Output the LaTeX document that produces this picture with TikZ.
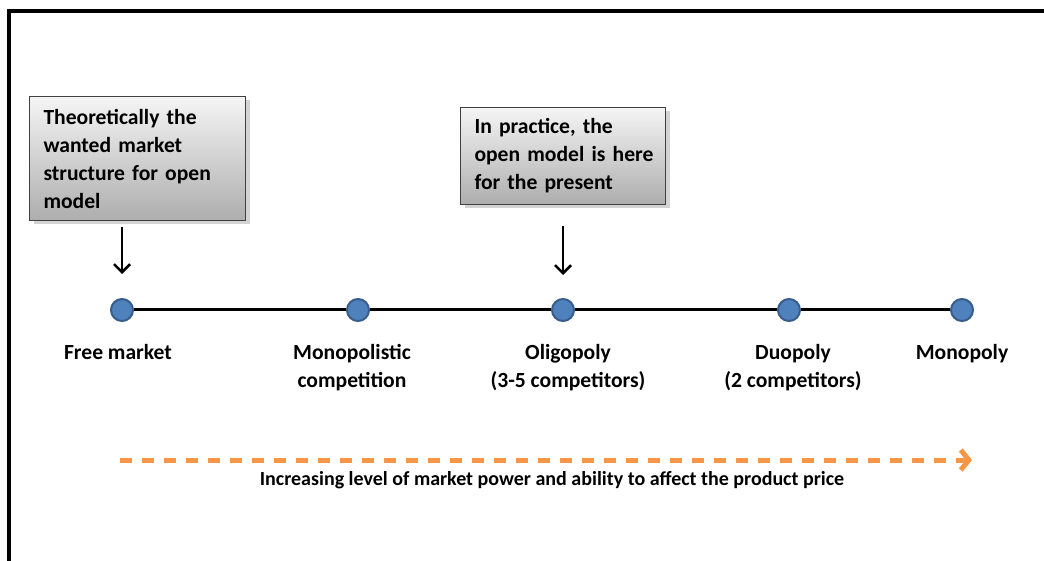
\documentclass[tikz,border=0pt]{standalone}
\usepackage{fontspec}
\setmainfont{Carlito}
\usetikzlibrary{positioning,arrows.meta,shadows}
\definecolor{dotblue}{HTML}{4F81BD}
\definecolor{dotrim}{HTML}{385D8A}
\definecolor{trendorange}{HTML}{F79646}
\begin{document}
\begin{tikzpicture}[x=0.5pt,y=-0.5pt,
	font=\bfseries\fontsize{10.8}{14}\selectfont,
	main node/.style = {circle,draw=dotrim,fill=dotblue,line width=1pt,inner sep=0pt,minimum size=11pt},
	note box/.style = {draw=black!75,line width=0.5pt,top color=black!4,bottom color=black!32,
		drop shadow={shadow xshift=2pt,shadow yshift=-2pt,opacity=0.35},
		align=left,inner xsep=7pt,inner ysep=0pt,anchor=north west},
	stage/.style = {align=center,inner sep=0pt},
	pointer/.style = {-{Straight Barb[length=4pt,width=8pt]},line width=1.3pt}]
	
	\useasboundingbox (0,0) rectangle (1044,561);
	\draw[line width=1.6pt] (9,561) -- (9,11) -- (1044,11);
	
	\node[main node] (fm) at (122,310) {};
	\node[main node] (mc) at (358,310) {};
	\node[main node] (ol) at (563,310) {};
	\node[main node] (du) at (789,310) {};
	\node[main node] (mo) at (962,310) {};
	\draw[line width=1.5pt] (fm) -- (mc) -- (ol) -- (du) -- (mo);
	
	\node[stage,below=11pt of fm,xshift=-2pt] (fmtext) {Free market};
	\node[stage,below=11pt of mc,xshift=-3pt] (mctext) {Monopolistic\\competition};
	\node[stage,below=11pt of ol,xshift=2.5pt] (oltext) {Oligopoly\\(3-5 competitors)};
	\node[stage,below=11pt of du,xshift=2pt] (dutext) {Duopoly\\(2 competitors)};
	\node[stage,below=11pt of mo] (motext) {Monopoly};
	
	\node[note box,text width=94pt,minimum height=62pt] (theory) at (29,96)
		{Theoretically the\\wanted market\\structure for open\\model};
	\node[note box,text width=94pt,inner xsep=4.25pt,minimum height=48.5pt] (practice) at (460,107)
		{\hspace*{2.75pt}In practice, the\\\hspace*{2.75pt}open model is here\\\hspace*{2.75pt}for the present};
	\draw[pointer,shorten <=3pt,shorten >=12pt] (theory.south -| fm) -- (fm.north);
	\draw[pointer,shorten <=10.5pt,shorten >=11.5pt] (practice.south -| ol) -- (ol.north);
	
	\coordinate (trendstart) at (120,460);
	\coordinate (trendend) at (972,460);
	\draw[trendorange,line width=2.5pt,dash pattern=on 6pt off 5pt,
		-{Straight Barb[length=4pt,width=10pt]}] (trendstart) -- (trendend);
	\node[font=\bfseries\fontsize{10}{12}\selectfont] (trendtext) at (552,480)
		{Increasing level of market power and ability to affect the product price};
	
\end{tikzpicture}
\end{document}
